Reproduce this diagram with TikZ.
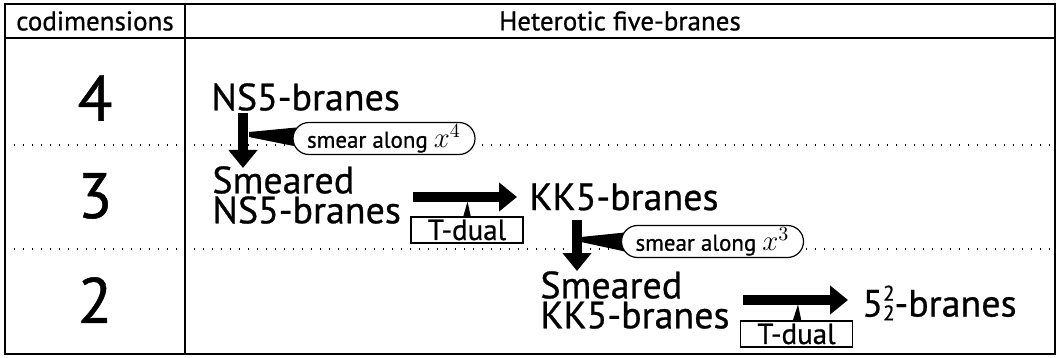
\documentclass[tikz,border=0pt]{standalone}
\usepackage{fontspec}
\setmainfont{PT Sans}[FakeBold=0.7]
\usetikzlibrary{arrows.meta,calc,backgrounds}
\pgfdeclarelayer{bg}
\pgfdeclarelayer{mid}
\pgfsetlayers{bg,mid,main}
\newcommand{\bigmath}[1]{{\fontsize{14}{14}\selectfont$#1$}}
\tikzset{
  hdr/.style={font=\fontsize{13.5}{15}\selectfont, inner sep=0pt},
  digit/.style={font=\fontsize{32}{34}\selectfont, inner sep=0pt},
  brane/.style={font=\fontsize{19}{15}\selectfont, inner sep=0pt, anchor=west, align=left},
  bigarrow/.style={line width=5pt, -{Triangle[width=14pt,length=9pt]}},
  smearbox/.style={draw, line width=0.6pt, fill=white, rounded corners=8pt, inner sep=0pt,
    minimum width=91pt, minimum height=16pt, font=\fontsize{11.5}{12}\selectfont},
  tdualbox/.style={draw, line width=0.6pt, fill=white, inner sep=0pt,
    minimum width=56pt, minimum height=13pt, font=\fontsize{14.5}{14}\selectfont},
  dotline/.style={line width=0.6pt, dash pattern=on 0.6pt off 3.9pt},
}
\begin{document}
\begin{tikzpicture}[x=0.5pt,y=-0.5pt]
\useasboundingbox (0,0) rectangle (1060,358);
% table
\draw[line width=1pt] (5,4) rectangle (1055,354);
\draw[line width=1pt] (5,38.5) -- (1055,38.5);
\draw[line width=0.6pt] (185,4) -- (185,354);
\begin{pgfonlayer}{bg}
\draw[dotline] (5,145) -- (1055,145);
\draw[dotline] (5,249) -- (1055,249);
\end{pgfonlayer}
% headers
\node[hdr] (hcod) at (95,21) {codimensions};
\node[hdr] (hhet) at (620,21) {Heterotic five-branes};
% digits
\node[digit] (d4) at (95,98) {4};
\node[digit] (d3) at (95,196) {3};
\node[digit] (d2) at (95,300) {2};
% branes
\node[brane] (ns5) at (211,97) {NS5-branes};
\node[brane] (sns5) at (212,195) {Smeared\\NS5-branes};
\node[brane] (kk5) at (529,197) {KK5-branes};
\node[brane] (skk5) at (540,300) {Smeared\\KK5-branes};
\node[brane] (b522) at (862,303) {5\rlap{\raisebox{0.42em}{\fontsize{10.5}{10}\selectfont 2}}\raisebox{-0.1em}{\fontsize{10.5}{10}\selectfont 2}-branes};
% boxes
\node[smearbox] (sm1) at (384,138.5) {smear along \bigmath{x^4}};
\node[smearbox] (sm2) at (712.5,241.5) {smear along \bigmath{x^3}};
\node[tdualbox] (td1) at (467,230) {T-dual};
\node[tdualbox] (td2) at (796.5,334) {T-dual};
% arrows
\coordinate (a1s) at (243,113);
\coordinate (a1e) at (243,168);
\coordinate (a2s) at (413,197);
\coordinate (a2e) at (517,197);
\coordinate (a3s) at (577,220);
\coordinate (a3e) at (577,271);
\coordinate (a4s) at (743,300);
\coordinate (a4e) at (848,300);
\begin{pgfonlayer}{mid}
\draw[bigarrow] (a1s) -- (a1e);
\draw[bigarrow] (a2s) -- (a2e);
\draw[bigarrow] (a3s) -- (a3e);
\draw[bigarrow] (a4s) -- (a4e);
% pointers
\fill (249,132) -- ($(sm1.west)+(4,-11)$) -- ($(sm1.west)+(4,8)$) -- (249,137) -- cycle;
\fill (581,237) -- ($(sm2.west)+(4,-9)$) -- ($(sm2.west)+(4,10)$) -- (581,242) -- cycle;
\fill ($(td1.north)+(-4,1)$) -- ($(td1.north)+(0.5,-15)$) -- ($(td1.north)+(4,1)$) -- cycle;
\fill ($(td2.north)+(-4,1)$) -- ($(td2.north)+(1.5,-16)$) -- ($(td2.north)+(5,1)$) -- cycle;
\end{pgfonlayer}
\end{tikzpicture}
\end{document}
